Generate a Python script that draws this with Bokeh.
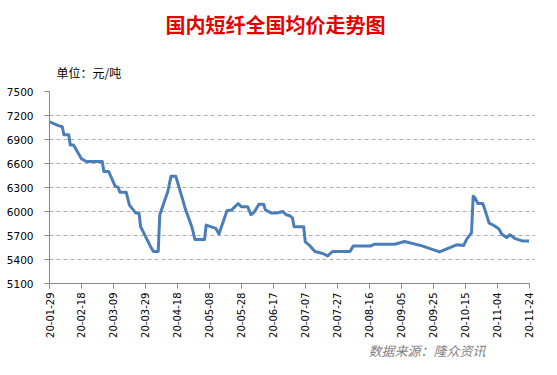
import math
from datetime import datetime, timedelta
from bokeh.plotting import figure
from bokeh.layouts import column
from bokeh.models import (ColumnDataSource, FixedTicker, DatetimeTickFormatter,
                          Title, Range1d, Label)
from bokeh.embed import file_html
from bokeh.resources import INLINE

# ---- data ----
dates = ["2020-01-29", "2020-02-01", "2020-02-04", "2020-02-06", "2020-02-07",
         "2020-02-10", "2020-02-11", "2020-02-13", "2020-02-18", "2020-02-21",
         "2020-03-02", "2020-03-03", "2020-03-06", "2020-03-10", "2020-03-12",
         "2020-03-13", "2020-03-17", "2020-03-19", "2020-03-23", "2020-03-25",
         "2020-03-26", "2020-04-01", "2020-04-03", "2020-04-06", "2020-04-07",
         "2020-04-12", "2020-04-14", "2020-04-17", "2020-04-21", "2020-04-23",
         "2020-04-27", "2020-04-29", "2020-05-05", "2020-05-06", "2020-05-12",
         "2020-05-14", "2020-05-19", "2020-05-22", "2020-05-26", "2020-05-28",
         "2020-06-01", "2020-06-03", "2020-06-05", "2020-06-08", "2020-06-11",
         "2020-06-12", "2020-06-16", "2020-06-19", "2020-06-23", "2020-06-25",
         "2020-06-27", "2020-06-29", "2020-06-30", "2020-07-06", "2020-07-07",
         "2020-07-10", "2020-07-13", "2020-07-18", "2020-07-21", "2020-07-24",
         "2020-08-04", "2020-08-06", "2020-08-17", "2020-08-19", "2020-09-01",
         "2020-09-07", "2020-09-18", "2020-09-29", "2020-10-10", "2020-10-14",
         "2020-10-16", "2020-10-19", "2020-10-20", "2020-10-21", "2020-10-23",
         "2020-10-26", "2020-10-27", "2020-10-30", "2020-11-02", "2020-11-05",
         "2020-11-07", "2020-11-10", "2020-11-12", "2020-11-15", "2020-11-20",
         "2020-11-24"]

prices = [7120, 7095, 7070, 7060, 6960,
          6960, 6830, 6830, 6660, 6625,
          6625, 6500, 6500, 6320, 6300,
          6240, 6240, 6080, 5980, 5980,
          5810, 5570, 5500, 5500, 5960,
          6250, 6440, 6440, 6170, 6030,
          5810, 5650, 5650, 5830, 5790,
          5720, 6010, 6020, 6100, 6060,
          6060, 5960, 5990, 6090, 6090,
          6020, 5980, 5980, 6000, 5960,
          5950, 5920, 5810, 5810, 5620,
          5570, 5500, 5475, 5445, 5500,
          5500, 5570, 5570, 5590, 5590,
          5625, 5570, 5495, 5585, 5575,
          5655, 5735, 6190, 6175, 6100,
          6100, 6045, 5855, 5825, 5785,
          5715, 5675, 5710, 5665, 5630,
          5630]

x_tick_labels = ["20-01-29", "20-02-18", "20-03-09", "20-03-29", "20-04-18",
                 "20-05-08", "20-05-28", "20-06-17", "20-07-07", "20-07-27",
                 "20-08-16", "20-09-05", "20-09-25", "20-10-15", "20-11-04",
                 "20-11-24"]
y_ticks = [5100, 5400, 5700, 6000, 6300, 6600, 6900, 7200, 7500]

title_text = "国内短纤全国均价走势图"
unit_text = "单位：元/吨"
source_text = "数据来源：隆众资讯"

assert len(dates) == len(prices)

xs = [datetime.strptime(d, "%Y-%m-%d") for d in dates]
tick_dates = [datetime.strptime(t, "%y-%m-%d") for t in x_tick_labels]
epoch = datetime(1970, 1, 1)
tick_ms = [(t - epoch).total_seconds() * 1000 for t in tick_dates]

src = ColumnDataSource(dict(x=xs, y=prices))

W = 541
H_MAIN = 340
H_FOOT = 19

p = figure(width=W, height=H_MAIN, x_axis_type="datetime",
           output_backend="svg", toolbar_location=None,
           x_range=Range1d(tick_dates[0], tick_dates[-1] + timedelta(days=4)),
           y_range=Range1d(y_ticks[0], y_ticks[-1]),
           min_border_left=49, min_border_right=6,
           min_border_top=0, min_border_bottom=0)
p.title = None
p.outline_line_color = None
p.background_fill_color = "white"
p.border_fill_color = "white"

p.line("x", "y", source=src, line_color="#4A7EBB", line_width=3,
       line_join="round")

# axes
xa = p.xaxis[0]
xa.ticker = FixedTicker(ticks=tick_ms)
fmt = "%y-%m-%d"
xa.formatter = DatetimeTickFormatter(milliseconds=fmt, seconds=fmt, minsec=fmt,
                                     minutes=fmt, hourmin=fmt, hours=fmt,
                                     days=fmt, months=fmt, years=fmt)
xa.bounds = (tick_ms[0], tick_ms[-1])
xa.major_label_orientation = math.pi / 2
xa.major_label_text_font = "DejaVu Sans"
xa.major_label_text_font_size = "10px"
xa.major_label_text_color = "#000000"
xa.major_label_standoff = 4
xa.axis_label = None
xa.axis_label_standoff = 0
xa.axis_line_color = "#868686"
xa.major_tick_line_color = "#868686"
xa.major_tick_in = 0
xa.major_tick_out = 5
xa.minor_tick_in = 0
xa.minor_tick_out = 0
xa.minor_tick_line_color = None

ya = p.yaxis[0]
ya.ticker = FixedTicker(ticks=y_ticks)
ya.major_label_text_font = "DejaVu Sans"
ya.major_label_text_font_size = "10.5px"
ya.major_label_text_color = "#000000"
ya.major_label_standoff = 11
ya.axis_line_color = "#868686"
ya.major_tick_line_color = "#868686"
ya.major_tick_in = 0
ya.major_tick_out = 5
ya.minor_tick_line_color = None

p.xgrid.grid_line_color = None
p.ygrid.grid_line_color = "#ADADAD"
p.ygrid.grid_line_dash = "4 3"
p.ygrid.grid_line_width = 1

# texts (first added to "above" sits closest to the frame)
p.add_layout(Title(text=unit_text, align="left", offset=7, standoff=22,
                   vertical_align="bottom",
                   text_font="Noto Sans CJK SC", text_font_size="12px",
                   text_font_style="normal", text_color="#000000"), "above")
p.add_layout(Title(text=title_text, align="left", offset=116, standoff=19,
                   vertical_align="top",
                   text_font="Noto Sans CJK SC", text_font_size="20px",
                   text_font_style="bold", text_color="#E60000"), "above")

# footer strip with the source note (frame == whole strip, pixel-sized ranges)
foot = figure(width=W, height=H_FOOT, output_backend="svg",
              toolbar_location=None, x_axis_location=None,
              y_axis_location=None,
              min_border_left=0, min_border_right=0,
              min_border_top=0, min_border_bottom=0,
              x_range=Range1d(0, W), y_range=Range1d(0, H_FOOT))
foot.title = None
foot.outline_line_color = None
foot.xgrid.grid_line_color = None
foot.ygrid.grid_line_color = None
foot.add_layout(Label(x=355, y=9.2, text=source_text, text_align="left",
                      text_baseline="middle", text_font="Noto Sans CJK SC",
                      text_font_size="13px", text_font_style="italic",
                      text_color="#7F7F7F"))

layout = column(p, foot, spacing=0)
open("out.html", "w").write(file_html(layout, INLINE))
